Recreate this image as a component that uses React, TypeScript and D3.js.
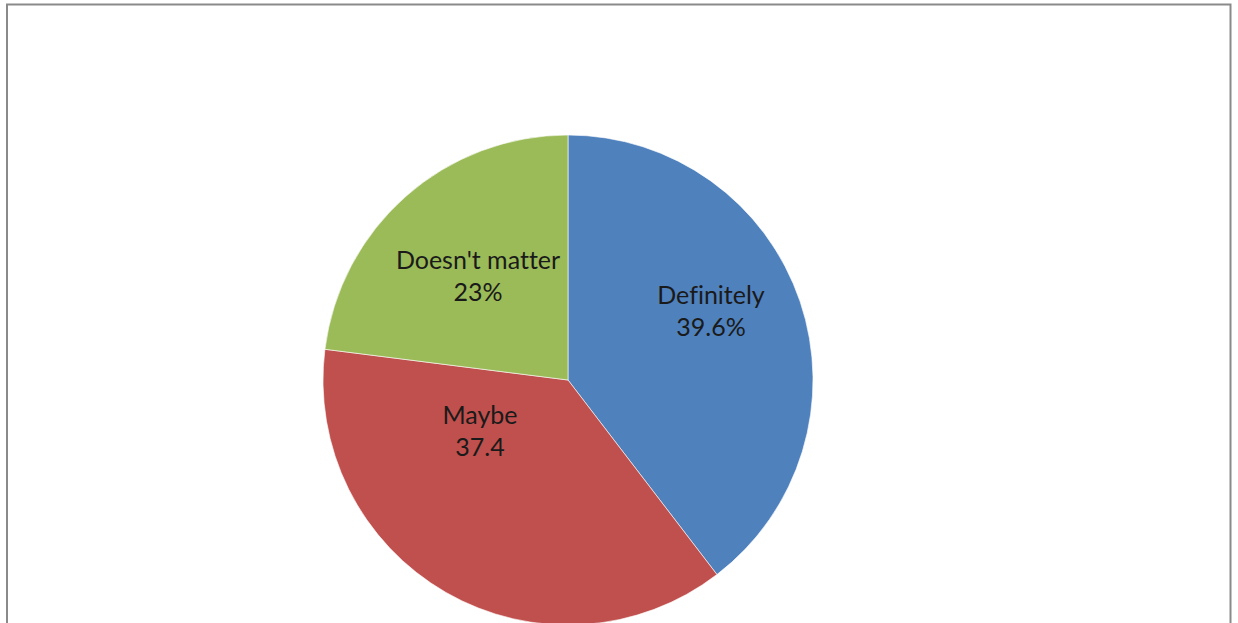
import React from "react";
import * as d3 from "d3";

const categories = ["Definitely", "Maybe", "Doesn't matter"];
const values = [39.6, 37.4, 23];
const valueLabels = ["39.6%", "37.4", "23%"];
const colors = ["#4F81BD", "#C0504D", "#9BBB59"];

const W = 1238;
const H = 623;
const cx = 568;
const cy = 380;
const R = 245;
// label block centre offsets relative to the pie centre (Excel-style placement)
const labelOffsets: [number, number][] = [
  [143, -69],
  [-88, 51],
  [-90, -104],
];

export default function App() {
  const pie = d3
    .pie<number>()
    .sort(null)
    .value((d) => d)
    .startAngle(0)
    .endAngle(2 * Math.PI);
  const arcs = pie(values);
  const arcGen = d3.arc<d3.PieArcDatum<number>>().innerRadius(0).outerRadius(R);
  const font = "Lato, 'Open Sans', sans-serif";
  const fs = 25;
  const lineGap = 32;
  return (
    <svg
      width={W}
      height={H}
      style={{ position: "absolute", left: 0, top: 0, background: "#fff" }}
    >
      <text x={143} y={-5} fontFamily="'Liberation Serif', serif" fontSize={20} fill="#000">
        g
      </text>
      <rect x={7} y={4.5} width={1223.5} height={700} fill="none" stroke="#8a8a8a" strokeWidth={2} />
      <g transform={`translate(${cx},${cy})`}>
        {arcs.map((a, i) => (
          <path key={categories[i]} d={arcGen(a) || ""} fill={colors[i]} stroke="#ffffff" strokeWidth={0.6} />
        ))}
        {arcs.map((a, i) => {
          const [ox, oy] = labelOffsets[i];
          return (
            <text
              key={"l" + i}
              x={ox}
              y={oy}
              textAnchor="middle"
              fontFamily={font}
              fontSize={fs}
              fill="#1a1a1a"
              style={{ fontVariantLigatures: "none", fontFeatureSettings: "'liga' 0" }}
            >
              <tspan x={ox} dy={-lineGap / 2 + fs * 0.35}>{categories[i]}</tspan>
              <tspan x={ox} dy={lineGap}>{valueLabels[i]}</tspan>
            </text>
          );
        })}
      </g>
    </svg>
  );
}
